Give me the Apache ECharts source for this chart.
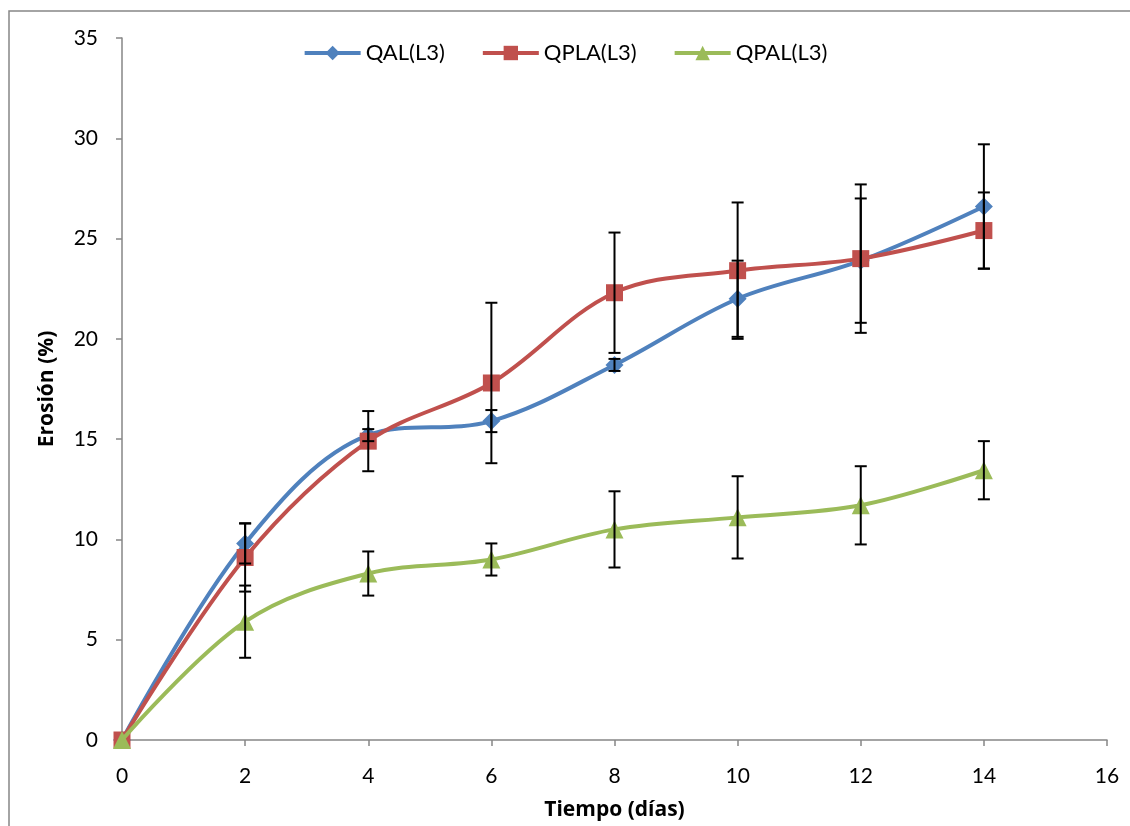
<!DOCTYPE html>
<html><head><meta charset="utf-8">
<script src="https://cdn.jsdelivr.net/npm/echarts@6/dist/echarts.min.js"></script>
<style>html,body{margin:0;padding:0;background:#fff}#c{width:1130px;height:826px}</style>
</head><body><div id="c"></div>
<script>
var days = [0, 2, 4, 6, 8, 10, 12, 14];
var seriesNames = ['QAL(L3)', 'QPLA(L3)', 'QPAL(L3)'];
var qal = [0, 9.8, 15.2, 15.9, 18.7, 22.0, 23.9, 26.6];
var qalErr = [0, 1.0, 0.3, 0.55, 0.3, 1.9, 3.1, 3.1];
var qpla = [0, 9.1, 14.9, 17.8, 22.3, 23.4, 24.0, 25.4];
var qplaErr = [0, 1.7, 1.5, 4.0, 3.0, 3.4, 3.7, 1.9];
var qpal = [0, 5.9, 8.3, 9.0, 10.5, 11.1, 11.7, 13.45];
var qpalErr = [0, 1.8, 1.1, 0.8, 1.9, 2.05, 1.95, 1.45];
var xTicks = [0, 2, 4, 6, 8, 10, 12, 14, 16];
var yTicks = [0, 5, 10, 15, 20, 25, 30, 35];

var colors = ['#4F81BD', '#C0504D', '#9BBB59'];
var symbols = ['diamond', 'rect', 'triangle'];
var symSizes = [18, 17, 18];
var vals = [qal, qpla, qpal];
var errs = [qalErr, qplaErr, qpalErr];
var font = 'Lato, "Open Sans", sans-serif';
var titleFont = '"Open Sans", Lato, sans-serif';

function pairs(arr){ return days.map(function(d,i){ return [d, arr[i]]; }); }

var series = [];
vals.forEach(function(v, k){
  series.push({
    name: seriesNames[k], type: 'line', data: pairs(v), smooth: 0.35,
    symbol: symbols[k], symbolSize: symSizes[k],
    itemStyle: {color: colors[k]},
    lineStyle: {color: colors[k], width: 4},
    z: 2 + k
  });
});
vals.forEach(function(v, k){
  var data = days.map(function(d,i){ return [d, v[i] - errs[k][i], v[i] + errs[k][i]]; })
    .filter(function(r){ return r[2] > r[1]; });
  series.push({
    type: 'custom', z: 10, silent: true,
    data: data,
    renderItem: function(params, api){
      var lo = api.coord([api.value(0), api.value(1)]);
      var hi = api.coord([api.value(0), api.value(2)]);
      var cw = 6;
      var st = {stroke: '#000', lineWidth: 2};
      return {type: 'group', children: [
        {type: 'line', shape: {x1: lo[0], y1: lo[1], x2: hi[0], y2: hi[1]}, style: st},
        {type: 'line', shape: {x1: lo[0]-cw, y1: lo[1], x2: lo[0]+cw, y2: lo[1]}, style: st},
        {type: 'line', shape: {x1: hi[0]-cw, y1: hi[1], x2: hi[0]+cw, y2: hi[1]}, style: st}
      ]};
    }
  });
});

var chart = echarts.init(document.getElementById('c'), null, {renderer: 'canvas'});
chart.setOption({
  backgroundColor: '#fff',
  animation: false,
  graphic: [{type: 'rect', shape: {x: 9, y: 11, width: 1140, height: 830},
    style: {fill: 'none', stroke: '#868686', lineWidth: 1.5}, z: -1}],
  legend: {
    data: seriesNames, top: 37, left: 'center', itemWidth: 56, itemHeight: 18, itemGap: 36,
    lineStyle: {width: 4},
    textStyle: {fontFamily: font, fontSize: 22, color: '#000'}
  },
  grid: {left: 122, right: 23, top: 38, bottom: 85},
  xAxis: {
    type: 'value', min: xTicks[0], max: xTicks[xTicks.length-1], interval: 2,
    name: 'Tiempo (días)', nameLocation: 'middle', nameGap: 60,
    nameTextStyle: {fontFamily: titleFont, fontSize: 21, fontWeight: 'bold', color: '#000'},
    axisLine: {lineStyle: {color: '#868686', width: 1.5}},
    axisTick: {show: true, length: 6, inside: false, lineStyle: {color: '#868686', width: 1.5}},
    axisLabel: {fontFamily: font, fontSize: 21, color: '#000', margin: 26},
    splitLine: {show: false}
  },
  yAxis: {
    type: 'value', min: yTicks[0], max: yTicks[yTicks.length-1], interval: 5,
    name: 'Erosión (%)', nameLocation: 'middle', nameGap: 64, nameRotate: 90,
    nameTextStyle: {fontFamily: titleFont, fontSize: 21, fontWeight: 'bold', color: '#000'},
    axisLine: {show: true, lineStyle: {color: '#868686', width: 1.5}},
    axisTick: {show: true, length: 6, lineStyle: {color: '#868686', width: 1.5}},
    axisLabel: {fontFamily: font, fontSize: 21, color: '#000', margin: 24},
    splitLine: {show: false}
  },
  series: series
});
</script></body></html>
